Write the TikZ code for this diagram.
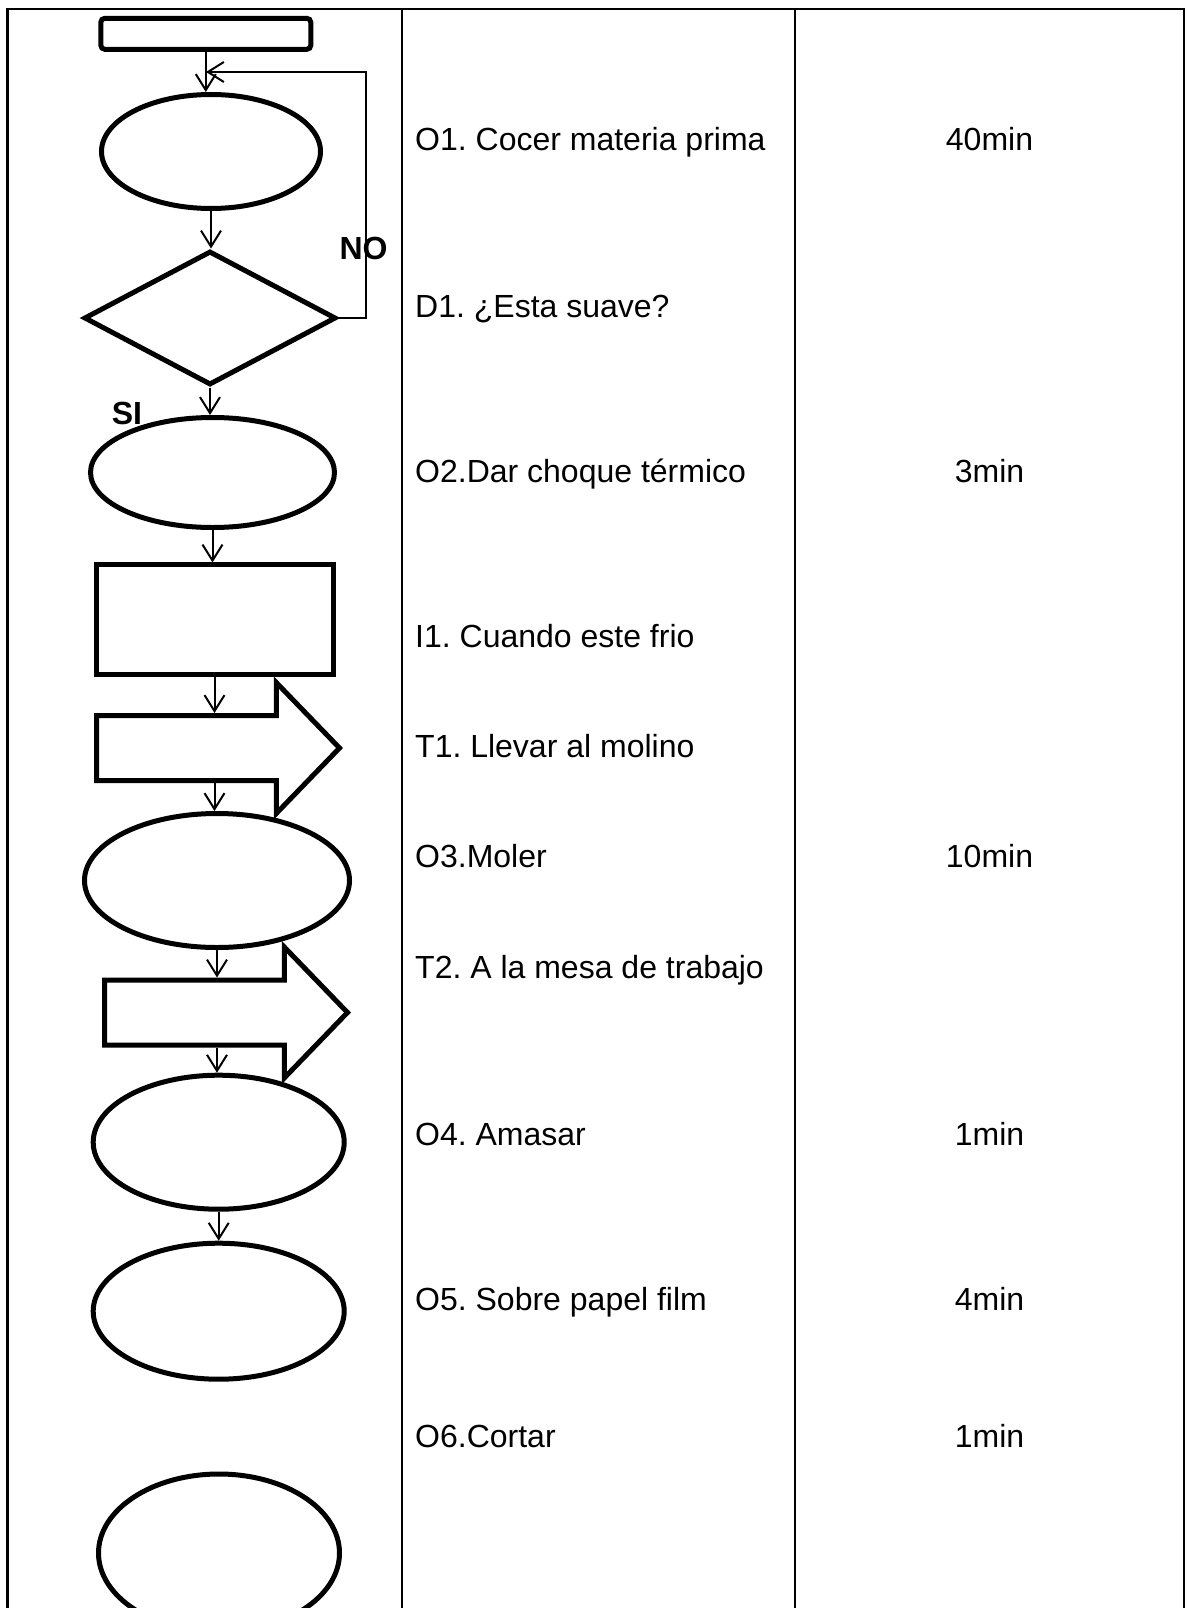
\documentclass[tikz,border=0pt]{standalone}
\usepackage{fontspec}
\setmainfont{Liberation Sans}
\usetikzlibrary{shapes.geometric,shapes.arrows,arrows.meta}
\frenchspacing
\tikzset{
  shp/.style = {draw, line width=5pt, inner sep=0pt},
  opnode/.style 2 args = {shp, ellipse, minimum width=#1, minimum height=#2},
  decnode/.style = {shp, diamond, minimum width=252pt, minimum height=134pt},
  insnode/.style = {shp, rectangle, minimum width=237pt, minimum height=109.5pt},
  termnode/.style = {shp, rectangle, rounded corners=4pt,
                     minimum width=210pt, minimum height=31pt},
  trnode/.style = {shp, single arrow, single arrow head extend=33pt,
                   single arrow tip angle=92, inner xsep=0pt, inner ysep=30pt,
                   minimum height=243pt, anchor=tail},
  flow/.style = {line width=2pt, -{Straight Barb[length=16pt,width=20pt]}},
  tabline/.style = {line width=2.2pt},
  desc/.style = {anchor=base west, inner sep=0pt, font=\fontsize{32}{38}\selectfont},
  dur/.style = {anchor=base, inner sep=0pt, font=\fontsize{32}{38}\selectfont},
  tag/.style = {inner sep=0pt, font=\fontsize{32}{38}\selectfont\bfseries}
}

\begin{document}
\begin{tikzpicture}[x=1pt, y=-1pt]
	\def \cola{415}
	\def \colb{989.5}
	\useasboundingbox (0,0) rectangle (1186,1608);
	\clip (0,0) rectangle (1186,1608);
	
	% Table
	\draw[tabline] (7.5,1620) -- (7.5,9) -- (1184,9) -- (1184,1620);
	\draw[tabline] (402,9) -- (402,1620);
	\draw[tabline] (795,9) -- (795,1620);
	
	% Symbols
	\node[termnode] (start) at (205.8,33.8) {};
	\node[opnode={219pt}{114pt}] (o1) at (211,151.5) {};
	\node[decnode] (d1) at (210,318) {};
	\node[opnode={244pt}{110pt}] (o2) at (212.5,472.5) {};
	\node[insnode] (i1) at (214.5,619.7) {};
	\node[trnode] (t1) at (94,748) {};
	\node[opnode={265pt}{134pt}] (o3) at (217,880.5) {};
	\node[trnode] (t2) at (102,1012.5) {};
	\node[opnode={251pt}{134pt}] (o4) at (218.7,1142.2) {};
	\node[opnode={251pt}{136pt}] (o5) at (218.7,1311.2) {};
	\node[opnode={241pt}{158pt}] (o6) at (219,1553) {};
	
	% Flow
	\coordinate (back) at (206,72);
	\draw[flow] (start.south) -- (start.south |- o1.north);
	\draw[flow] (o1.south) -- (o1.south |- d1.north);
	\draw[flow] (d1.south) -- (d1.south |- o2.north);
	\draw[flow] (o2.south) -- (o2.south |- i1.north);
	\draw[flow] (i1.south) -- (i1.south |- t1.north);
	\draw[flow] (i1.south |- t1.south) -- (i1.south |- o3.north);
	\draw[flow] (o3.south) -- (o3.south |- t2.north);
	\draw[flow] (o3.south |- t2.south) -- (o3.south |- o4.north);
	\draw[flow] (o4.south) -- (o4.south |- o5.north);
	\draw[flow] (d1.east) -- ++(27,0) |- (back); % NO
	
	% Labels
	\node[tag] (no) at (363.5,248.5) {NO};
	\node[tag] (si) at (127,413.5) {SI};
	
	% Descriptions
	\node[desc] (txt-o1) at (\cola,150.5) {O1. Cocer materia prima};
	\node[desc] (txt-d1) at (\cola,317) {D1. ¿Esta suave?};
	\node[desc] (txt-o2) at (\cola,482) {O2.Dar choque térmico};
	\node[desc] (txt-i1) at (\cola,647) {I1. Cuando este frio};
	\node[desc] (txt-t1) at (\cola,757.5) {T1. Llevar al molino};
	\node[desc] (txt-o3) at (\cola,867.5) {O3.Moler};
	\node[desc] (txt-t2) at (\cola,978.5) {T2. A la mesa de trabajo};
	\node[desc] (txt-o4) at (\cola,1145) {O4. Amasar};
	\node[desc] (txt-o5) at (\cola,1310.5) {O5. Sobre papel film};
	\node[desc] (txt-o6) at (\cola,1447) {O6.Cortar};
	
	% Times
	\node[dur] (min-o1) at (\colb,150.5) {40min};
	\node[dur] (min-o2) at (\colb,482) {3min};
	\node[dur] (min-o3) at (\colb,867.5) {10min};
	\node[dur] (min-o4) at (\colb,1145) {1min};
	\node[dur] (min-o5) at (\colb,1310.5) {4min};
	\node[dur] (min-o6) at (\colb,1447) {1min};
	
\end{tikzpicture}
\end{document}
